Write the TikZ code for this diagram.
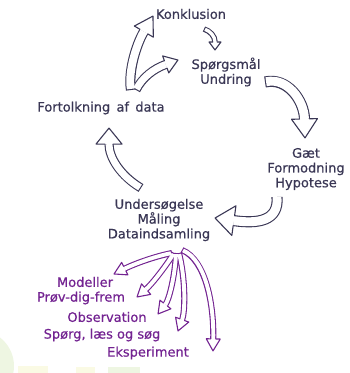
\documentclass[tikz,border=0pt]{standalone}
\usepackage{fontspec}
\setmainfont{DejaVu Sans}[FakeBold=0.6]
\usetikzlibrary{decorations.markings}
\definecolor{ink}{RGB}{58,55,85}
\definecolor{purp}{RGB}{115,35,145}
\definecolor{palegreen}{RGB}{238,246,226}
\definecolor{paleyellow}{RGB}{250,250,228}
\colorlet{acol}{ink}
\tikzset{
  lbl/.style={text=ink, font=\fontsize{13}{14.8}\selectfont, align=center, inner sep=0pt},
  plbl/.style={lbl, text=purp},
}
% dark rails of a hollow arrow: half width, head length, path
\newcommand\shaftdark[3]{%
  \pgfmathsetlengthmacro\railw{2*#1+1.1}%
  \draw[acol, line width=\railw, shorten >=#2pt] #3;}
% white core: half width, head length, tail gap, path
\newcommand\shaftcore[4]{%
  \pgfmathsetlengthmacro\corew{2*#1-1.1}%
  \draw[white, line width=\corew, shorten >=#2pt, shorten <=#3pt] #4;}
% open head: half width, head length, head half width, path
\newcommand\headat[4]{%
  \path[postaction={decorate}, decoration={markings, mark=at position 0.999 with {
    \fill[white] (0,0) -- (-#2,#3) -- (-#2,-#3) -- cycle;
    \draw[acol, line width=1.1pt, line join=round, line cap=round]
      (-#2,#1) -- (-#2,#3) -- (0,0) -- (-#2,-#3) -- (-#2,-#1);
  }}] #4;}
\begin{document}
\begin{tikzpicture}[x=1pt, y=-1pt]
\useasboundingbox (0,0) rectangle (349,373);
% faint background
\fill[palegreen] (-22,366) circle (36);
\fill[paleyellow] (18,366) rectangle (48,373);
\fill[paleyellow] (76,367) rectangle (95,373);
\fill[palegreen] (108,367) rectangle (140,373);

% labels
\node[lbl] (konk) at (191,14) {Konklusion};
\node[lbl] (sporg) at (226,72) {Spørgsmål\\Undring};
\node[lbl] (fort) at (101,108) {Fortolkning\ \,af\ \,data};
\node[lbl] (gaet) at (306,169) {Gæt\\Formodning\\Hypotese};
\node[lbl] (unders) at (159,220) {Undersøgelse\\Måling\\Dataindsamling};
\node[plbl] (mod) at (85,282) {Modeller};
\node[plbl] (prov) at (81,298) {Prøv-dig-frem};
\node[plbl] (obs) at (107,317) {Observation};
\node[plbl] (spl) at (102,335) {Spørg, læs og søg};
\node[plbl] (eks) at (148,353) {Eksperiment};

% arrow end coordinates
\coordinate (a1s) at (204,29);  \coordinate (a1e) at (215,50);
\coordinate (a2s) at (265,82);  \coordinate (a2e) at (305,138);
\coordinate (a3s) at (277,197); \coordinate (a3e) at (215,218);
\coordinate (a4s) at (141,188); \coordinate (a4e) at (109,128);
\coordinate (a5s) at (131,90);  \coordinate (a5e) at (153,16);
\coordinate (a6s) at (136,90);  \coordinate (a6e) at (178,60);
\coordinate (f1s) at (172,253); \coordinate (f1e) at (114,274);
\coordinate (f2s) at (174,253); \coordinate (f2e) at (137,297);
\coordinate (f3s) at (176,253); \coordinate (f3e) at (158,314);
\coordinate (f4s) at (179,253); \coordinate (f4e) at (178,331);
\coordinate (f5s) at (182,250); \coordinate (f5e) at (213,351);

\def\pa{(a1s) .. controls (210,31) and (215,36) .. (a1e)}
\def\pb{(a2s) .. controls (287,77) and (304,100) .. (a2e)}
\def\pc{(a3s) .. controls (279,221) and (258,224) .. (a3e)}
\def\pd{(a4s) .. controls (121,176) and (109,158) .. (a4e)}
\def\pe{(a5s) .. controls (128,72) and (136,45) .. (a5e)}
\def\pf{(a6s) .. controls (142,78) and (153,69) .. (a6e)}

% dark cycle arrows
\shaftdark{2.2}{8}{\pa}  \shaftcore{2.2}{8}{1.1}{\pa}  \headat{2.2}{8}{6}{\pa}
\shaftdark{5}{19}{\pb}   \shaftcore{5}{19}{1.1}{\pb}   \headat{5}{19}{13}{\pb}
\shaftdark{5}{19}{\pc}   \shaftcore{5}{19}{0}{\pc}     \headat{5}{19}{15}{\pc}
\shaftdark{4}{16}{\pd}   \shaftcore{4}{16}{1.1}{\pd}   \headat{4}{16}{13}{\pd}
\shaftdark{4.5}{18}{\pe} \shaftdark{4}{13}{\pf}
\shaftcore{4.5}{18}{1.1}{\pe} \shaftcore{4}{13}{1.1}{\pf}
\headat{4.5}{18}{11}{\pe} \headat{4}{13}{9}{\pf}

% purple fan
\begin{scope}
\colorlet{acol}{purp}
\def\qa{(f1s) .. controls (152,257) and (132,265) .. (f1e)}
\def\qb{(f2s) .. controls (166,266) and (152,284) .. (f2e)}
\def\qc{(f3s) .. controls (175,276) and (169,300) .. (f3e)}
\def\qd{(f4s) .. controls (186,282) and (185,312) .. (f4e)}
\def\qe{(f5s) .. controls (206,260) and (214,305) .. (f5e)}
\shaftdark{2.5}{12}{\qa} \shaftdark{2.5}{12}{\qb} \shaftdark{2.5}{12}{\qc}
\shaftdark{2.5}{12}{\qd} \shaftdark{2.5}{12}{\qe}
\shaftcore{2.5}{12}{1.1}{\qa} \shaftcore{2.5}{12}{1.1}{\qb} \shaftcore{2.5}{12}{1.1}{\qc}
\shaftcore{2.5}{12}{1.1}{\qd} \shaftcore{2.5}{12}{1.1}{\qe}
\headat{2.5}{12}{7}{\qa} \headat{2.5}{12}{7}{\qb} \headat{2.5}{12}{7}{\qc}
\headat{2.5}{12}{7}{\qd} \headat{2.5}{12}{7}{\qe}
\end{scope}
\end{tikzpicture}
\end{document}
